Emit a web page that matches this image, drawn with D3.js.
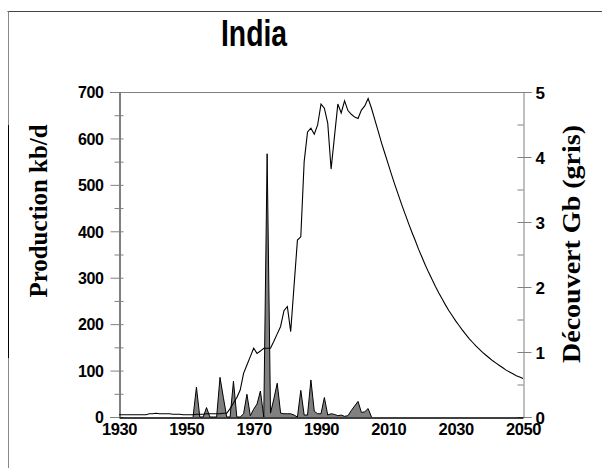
<!DOCTYPE html>
<html>
<head>
<meta charset="utf-8">
<script src="https://cdn.jsdelivr.net/npm/d3@7"></script>
<style>
body { margin: 0; background: #fff; }
</style>
</head>
<body>
<div id="chart"></div>
<script>
// production kb/d, one value per year from 1930 (history up to 2004, then projection to 2050)
var prodStart = 1930;
var prodValues = [
  5, 5, 5, 5, 5, 5, 5, 5, 5,                 // 1930-1938
  7, 7, 8, 7, 7, 7, 7, 6,                    // 1939-1946
  6, 6, 5, 5, 5, 5,                          // 1947-1952
  6, 6, 6, 7, 7, 7, 7, 7, 8, 8,              // 1953-1962
  18, 30, 42, 58, 94, 112, 130,              // 1963-1969
  148, 137, 142, 148, 148, 148, 163, 179, 195, 229, 238, 184, 283, 381, 388, // 1970-1984
  550, 614, 622, 609, 629, 674, 665, 633, 534, 604, 674, 655, 681, 660, 652, 646, 643, 661, 670, 686, // 1985-2004
  665, 640, 615, 590, 567, 544, 521, 499, 478, 457, 437, 417, 398, 380, 361, // 2005-2019
  344, 327, 311, 296, 281, 267, 254, 241, 229, 218, 207, 197, 187, 178, 169, // 2020-2034
  161, 153, 146, 139, 133, 127, 121, 116, 111, 106, 101, 97, 93, 89, 86, 83  // 2035-2050
];

// discoveries Gb (grey area), one value per year from 1930 to 2005
var discStart = 1930;
var discValues = [
  0, 0, 0, 0, 0, 0, 0, 0, 0, 0, 0,           // 1930-1940
  0, 0, 0, 0, 0, 0, 0, 0, 0, 0, 0,           // 1941-1951
  0, 0.46, 0, 0, 0.145, 0, 0, 0,             // 1952-1959
  0.61, 0.30, 0, 0, 0.55, 0, 0, 0.05, 0.35, 0.02, // 1960-1969
  0.12, 0.20, 0.40, 0, 4.05, 0.06, 0.28, 0.52, 0.06, 0.05, // 1970-1979
  0.05, 0.05, 0.03, 0, 0.41, 0.03, 0.03, 0.57, 0.09, 0.05, // 1980-1989
  0.05, 0.30, 0.03, 0.05, 0.04, 0.02, 0.03, 0.01, 0.02, 0.10, // 1990-1999
  0.17, 0.24, 0.07, 0.08, 0.13, 0             // 2000-2005
];

var yearTicks = [1930, 1950, 1970, 1990, 2010, 2030, 2050];
var prodTicks = [0, 100, 200, 300, 400, 500, 600, 700];
var prodMinor = [50, 150, 250, 350, 450, 550, 650];
var discTicks = [0, 1, 2, 3, 4, 5];
var discMinor = [0.5, 1.5, 2.5, 3.5, 4.5];

var W = 602, H = 468;
var pLeft = 119, pRight = 523, pTop = 92, pBottom = 417;
var sans = "'Liberation Sans', Arial, sans-serif";
var serif = "'Liberation Serif', 'Times New Roman', serif";

var svg = d3.select("#chart").append("svg")
    .attr("width", W)
    .attr("height", H);

// outer frame
svg.append("line").attr("x1", 7.5).attr("x2", W).attr("y1", 11.5).attr("y2", 11.5)
    .attr("stroke", "#444");
svg.append("line").attr("x1", 8.5).attr("x2", 8.5).attr("y1", 11.5).attr("y2", H)
    .attr("stroke", "#888");
svg.append("line").attr("x1", 8.5).attr("x2", 8.5).attr("y1", 125).attr("y2", 358)
    .attr("stroke", "#000");

var x = d3.scaleLinear().domain([1930, 2050]).range([pLeft, pRight]);
var yL = d3.scaleLinear().domain([0, 700]).range([pBottom, pTop]);
var yR = d3.scaleLinear().domain([0, 5]).range([pBottom, pTop]);

var prod = prodValues.map(function(v, i) { return {year: prodStart + i, v: v}; });
var disc = discValues.map(function(v, i) { return {year: discStart + i, v: v}; });

// top frame line
svg.append("line").attr("x1", pLeft).attr("x2", pRight).attr("y1", pTop + 0.5).attr("y2", pTop + 0.5)
    .attr("stroke", "#808080");

// discoveries area: grey fill, black outline on top only
var area = d3.area()
    .x(function(d) { return x(d.year); })
    .y0(yR(0))
    .y1(function(d) { return yR(d.v); });
svg.append("path")
    .datum(disc)
    .attr("d", area)
    .attr("fill", "#808080");
svg.append("path")
    .datum(disc.filter(function(d) { return d.year >= 1952; }))
    .attr("d", d3.line().x(function(d) { return x(d.year); }).y(function(d) { return yR(d.v); }))
    .attr("fill", "none")
    .attr("stroke", "#000")
    .attr("stroke-width", 1);

// production line
var line = d3.line()
    .x(function(d) { return x(d.year); })
    .y(function(d) { return yL(d.v); });
svg.append("path")
    .datum(prod)
    .attr("d", line)
    .attr("fill", "none")
    .attr("stroke", "#000")
    .attr("stroke-width", 1.1);

function styleLabels(sel, size) {
  sel.selectAll(".tick text")
    .style("font-family", sans)
    .style("font-size", size + "px")
    .style("font-weight", "bold")
    .style("letter-spacing", "-0.4px")
    .attr("fill", "#000");
}

// left axis
var gL = svg.append("g").attr("transform", "translate(" + (pLeft + 0.5) + ",0)");
gL.call(d3.axisLeft(yL).tickValues(prodTicks).tickSize(9).tickFormat(d3.format("d")));
gL.selectAll(".tick line").attr("x1", 4).attr("stroke", "#808080");
gL.selectAll(".tick text").attr("x", -16).attr("dy", "0.36em");
gL.select(".domain").attr("stroke", "#000");
styleLabels(gL, 16);
var gLm = svg.append("g").attr("transform", "translate(" + (pLeft + 0.5) + ",0)");
gLm.call(d3.axisLeft(yL).tickValues(prodMinor).tickSize(5).tickFormat(""));
gLm.selectAll(".tick line").attr("x1", 4).attr("stroke", "#808080");
gLm.select(".domain").remove();

// right axis
var gR = svg.append("g").attr("transform", "translate(" + (pRight + 0.5) + ",0)");
gR.call(d3.axisRight(yR).tickValues(discTicks).tickSize(8).tickFormat(d3.format("d")));
gR.selectAll(".tick line").attr("x1", -6).attr("stroke", "#808080");
gR.selectAll(".tick text").attr("x", 12).attr("dy", "0.36em");
gR.select(".domain").attr("stroke", "#808080");
styleLabels(gR, 17);
var gRm = svg.append("g").attr("transform", "translate(" + (pRight + 0.5) + ",0)");
gRm.call(d3.axisRight(yR).tickValues(discMinor).tickSize(0).tickFormat(""));
gRm.selectAll(".tick line").attr("x1", -6).attr("stroke", "#808080");
gRm.select(".domain").remove();

// bottom axis
var gB = svg.append("g").attr("transform", "translate(0," + (pBottom + 0.5) + ")");
gB.call(d3.axisBottom(x).tickValues(yearTicks).tickSize(0).tickFormat(d3.format("d")));
gB.select(".domain").attr("stroke", "#000").attr("stroke-width", 1.3);
gB.selectAll(".tick text").attr("y", 6).attr("dy", "0.71em");
styleLabels(gB, 16.5);

// title
svg.append("text")
    .attr("x", 254)
    .attr("y", 46)
    .attr("text-anchor", "middle")
    .style("font-family", sans)
    .style("font-size", "37px")
    .style("font-weight", "bold")
    .attr("textLength", 66)
    .attr("lengthAdjust", "spacingAndGlyphs")
    .text("India");

// axis titles
svg.append("text")
    .attr("transform", "translate(47,211) rotate(-90)")
    .attr("text-anchor", "middle")
    .style("font-family", serif)
    .style("font-size", "25px")
    .style("font-weight", "bold")
    .attr("textLength", 173)
    .attr("lengthAdjust", "spacingAndGlyphs")
    .text("Production kb/d");

svg.append("text")
    .attr("transform", "translate(580,244) rotate(-90)")
    .attr("text-anchor", "middle")
    .style("font-family", serif)
    .style("font-size", "25px")
    .style("font-weight", "bold")
    .attr("textLength", 238)
    .attr("lengthAdjust", "spacingAndGlyphs")
    .text("Découvert Gb (gris)");
</script>
</body>
</html>
